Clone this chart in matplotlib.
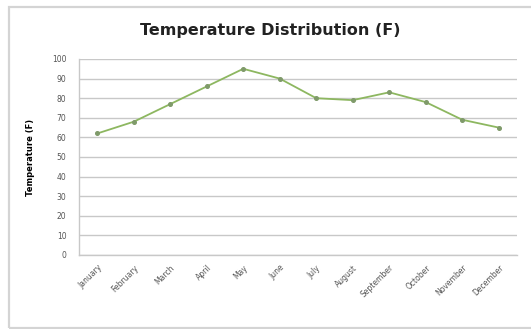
import numpy as np
import matplotlib.pyplot as plt
from matplotlib.patches import Rectangle

months = ["January", "February", "March", "April", "May", "June", "July",
          "August", "September", "October", "November", "December"]
temps_f = [62, 68, 77, 86, 95, 90, 80, 79, 83, 78, 69, 65]
y_ticks = list(range(0, 101, 10))

W, H = 531, 329
fig = plt.figure(figsize=(W / 100, H / 100), dpi=100)
fig.patch.set_facecolor("white")

# chart frame
fig.patches.append(Rectangle((9 / W, 1 - 328 / H), 560 / W, (328 - 7) / H,
                             transform=fig.transFigure, fill=False,
                             edgecolor="#d4d4d4", linewidth=1.6))

ax = fig.add_axes([79 / W, 1 - 255 / H, (517 - 79) / W, (255 - 59) / H])
x = np.arange(len(months))
ax.plot(x, temps_f, color="#8db760", linewidth=1.3, marker="o",
        markersize=2.6, markerfacecolor="#7f9a6a", markeredgecolor="#7f9a6a")

ax.set_xlim(-0.5, len(months) - 0.5)
ax.set_ylim(0, 100)
ax.set_yticks(y_ticks)
ax.set_yticklabels([str(v) for v in y_ticks], fontsize=5.5, color="#555555")
ax.set_xticks(x)
ax.set_xticklabels(months, rotation=45, ha="right", rotation_mode="anchor",
                   fontsize=5.5, color="#555555")
ax.tick_params(axis="y", length=0, pad=9)
ax.tick_params(axis="x", length=0, pad=6)

ax.yaxis.grid(True, color="#c8c8c8", linewidth=1.0)
ax.set_axisbelow(True)
for side in ["top", "right"]:
    ax.spines[side].set_visible(False)
for side in ["left", "bottom"]:
    ax.spines[side].set_color("#c8c8c8")
    ax.spines[side].set_linewidth(1.0)

ax.set_ylabel("Temperature (F)", fontsize=6, fontweight="bold", labelpad=12)
fig.text(270 / W, 1 - 30 / H, "Temperature Distribution (F)", ha="center",
         va="center", fontsize=11.5, fontweight="bold", color="#222222")

fig.savefig("out.png", dpi=100)
